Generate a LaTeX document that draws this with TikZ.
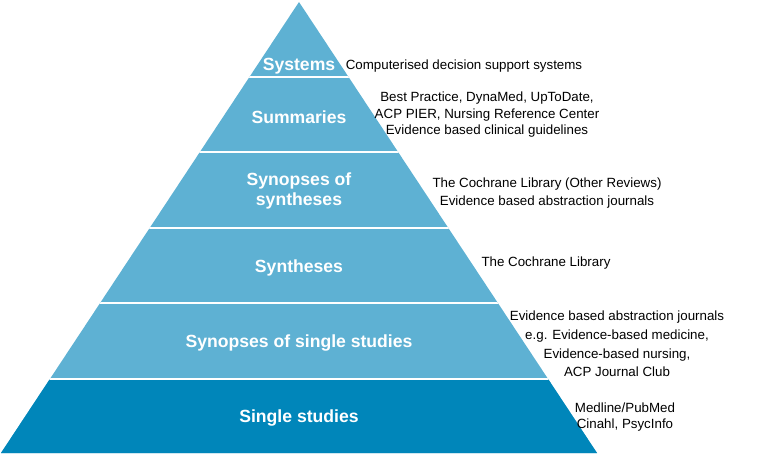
\documentclass[tikz,border=0pt]{standalone}
\usepackage{fontspec}
\setmainfont{Liberation Sans}
\definecolor{levelblue}{RGB}{94,177,211}
\definecolor{baseblue}{RGB}{0,134,186}
\tikzset{
  level/.style={text=white, font=\bfseries\fontsize{13.2}{15}\selectfont, align=center, inner sep=0pt},
  source/.style={text=black, font=\fontsize{10}{13.5}\selectfont, align=center, inner sep=0pt},
}
\begin{document}
\begin{tikzpicture}[x=0.75pt, y=-0.75pt]
        \useasboundingbox (0,0) rectangle (758,456);
        % Pyramid
        % Define the corners
        \coordinate (top) at (299,2);
        \coordinate (bl) at (1,453);
        \coordinate (br) at (597,453);
        % Fill the levels
        \fill[levelblue] (top) -- (bl) -- (br) -- cycle;
        \begin{scope}
            \clip (top) -- (bl) -- (br) -- cycle;
            \fill[baseblue] (0,379) rectangle (600,456);
            \foreach \y in {77,152,228,303,379}
                \draw[white, line width=1.5pt] (0,\y) -- (600,\y);
        \end{scope}

        % Levels
        % Define the nodes
        \node[level] (systems) at (299,66) {Systems};
        \node[level] (summaries) at (299,117) {Summaries};
        \node[level] (synsyn) at (299,191) {Synopses of\\syntheses};
        \node[level] (syntheses) at (299,268) {Syntheses};
        \node[level] (synsingle) at (299,343) {Synopses of single studies};
        \node[level] (single) at (299,418) {Single studies};

        % Sources
        % Define the nodes
        \node[source] (systemsSrc) at (464,66) {Computerised decision support systems};
        \node[source, font=\fontsize{10}{12.4}\selectfont] (summariesSrc) at (487,115) {Best Practice, DynaMed, UpToDate,\\ACP PIER, Nursing Reference Center\\Evidence based clinical guidelines};
        \node[source] (synsynSrc) at (547,193) {The Cochrane Library (Other Reviews)\\Evidence based abstraction journals};
        \node[source] (synthesesSrc) at (546,263) {The Cochrane Library};
        \node[source, font=\fontsize{10}{14}\selectfont] (synsingleSrc) at (617,344) {Evidence based abstraction journals\\e.g. Evidence-based medicine,\\Evidence-based nursing,\\ACP Journal Club};
        \node[source, font=\fontsize{10}{11.6}\selectfont] (singleSrc) at (625,417) {Medline/PubMed\\Cinahl, PsycInfo};
    \end{tikzpicture}
\end{document}
